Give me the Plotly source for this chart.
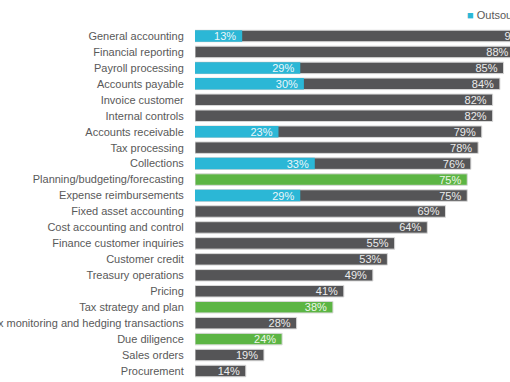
import plotly.graph_objects as go

categories = [
    "General accounting", "Financial reporting", "Payroll processing", "Accounts payable",
    "Invoice customer", "Internal controls", "Accounts receivable", "Tax processing",
    "Collections", "Planning/budgeting/forecasting", "Expense reimbursements",
    "Fixed asset accounting", "Cost accounting and control", "Finance customer inquiries",
    "Customer credit", "Treasury operations", "Pricing", "Tax strategy and plan",
    "Forex monitoring and hedging transactions", "Due diligence", "Sales orders", "Procurement",
]
total_pct = [93, 88, 85, 84, 82, 82, 79, 78, 76, None, 75, 69, 64, 55, 53, 49, 41, None, 28, None, 19, 14]
strategic_pct = [None, None, None, None, None, None, None, None, None, 75, None, None, None, None, None, None, None, 38, None, 24, None, None]
outsourced_pct = [13, None, 29, 30, None, None, 23, None, 33, None, 29, None, None, None, None, None, None, None, None, None, None, None]

GRAY = "#555557"
GREEN = "#5cb544"
CYAN = "#2bb7d6"
FONT = "Liberation Sans, Arial, sans-serif"

def labels(vals):
    return [f"{v}%\u00a0" if v is not None else "" for v in vals]

fig = go.Figure()
fig.add_trace(go.Bar(
    y=categories, x=total_pct, orientation="h", name="Total",
    marker=dict(color=GRAY, line=dict(color="#d9d9d9", width=1)),
    text=labels(total_pct), textposition="inside", insidetextanchor="end",
    constraintext="none",
    textfont=dict(color="#ececec", size=11, family=FONT), showlegend=False,
))
fig.add_trace(go.Bar(
    y=categories, x=strategic_pct, orientation="h", name="Strategic",
    marker=dict(color=GREEN, line=dict(color="#d9d9d9", width=1)),
    text=labels(strategic_pct), textposition="inside", insidetextanchor="end",
    constraintext="none",
    textfont=dict(color="#eef7ea", size=11, family=FONT), showlegend=False,
))
fig.add_trace(go.Bar(
    y=categories, x=outsourced_pct, orientation="h", name="Outsourced",
    marker=dict(color=CYAN, line=dict(width=0)),
    text=labels(outsourced_pct), textposition="inside", insidetextanchor="end",
    constraintext="none",
    textfont=dict(color="#eaf6fa", size=11, family=FONT), showlegend=False,
))

L, T, B = 195, 28, 2.5
PLOT_W = 510 - L
PLOT_H = 382 - T - B

fig.add_annotation(
    xref="paper", yref="paper",
    x=(465 - L) / PLOT_W, y=(PLOT_H + T - 15) / PLOT_H,
    xanchor="left", yanchor="middle", showarrow=False,
    text=f'<span style="color:{CYAN}">■</span> Outsourced',
    font=dict(size=11, color="#595959", family=FONT),
)

fig.update_layout(
    width=510, height=382,
    margin=dict(l=L, r=0, t=T, b=B, autoexpand=False),
    barmode="overlay", bargap=0.28,
    plot_bgcolor="white", paper_bgcolor="white",
    font=dict(family=FONT, size=11, color="#595959"),
    showlegend=False,
    xaxis=dict(range=[0, PLOT_W / 3.63], visible=False, fixedrange=True),
    yaxis=dict(autorange="reversed", showgrid=False, zeroline=False, showline=False,
               ticks="outside", ticklen=8, tickcolor="rgba(0,0,0,0)",
               tickfont=dict(size=11, color="#595959", family=FONT), automargin=False),
)

fig.write_html("out.html", config={"displayModeBar": False},
               post_script="document.body.style.margin='0';")
